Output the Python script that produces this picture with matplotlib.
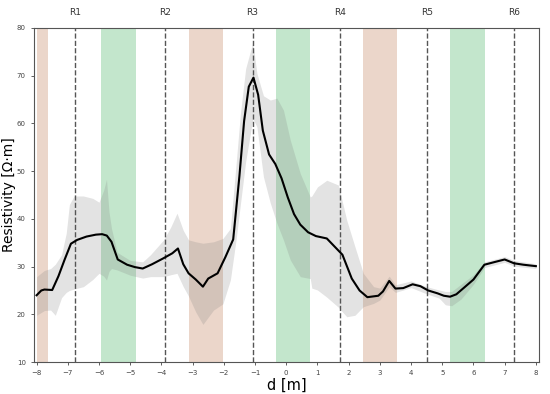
import matplotlib.pyplot as plt
import numpy as np

# mean resistivity profile
d = [-8.0, -7.85, -7.75, -7.5, -7.3, -7.1, -6.9, -6.7, -6.4, -6.1, -5.9, -5.75,
     -5.6, -5.4, -5.1, -4.85, -4.6, -4.3, -3.95, -3.65, -3.47, -3.3, -3.13, -2.9,
     -2.67, -2.5, -2.2, -1.95, -1.7, -1.5, -1.35, -1.2, -1.05, -0.9, -0.75, -0.55,
     -0.35, -0.15, 0.05, 0.25, 0.45, 0.7, 0.95, 1.3, 1.55, 1.8, 1.95, 2.1, 2.35,
     2.6, 2.95, 3.1, 3.3, 3.5, 3.75, 4.05, 4.3, 4.55, 4.85, 5.05, 5.25, 5.45, 5.7,
     6.0, 6.35, 6.7, 7.0, 7.3, 7.6, 8.0]
rho = [24.0, 25.0, 25.2, 25.1, 28.0, 31.5, 34.8, 35.6, 36.3, 36.7, 36.8, 36.5,
       35.2, 31.5, 30.4, 29.9, 29.6, 30.5, 31.7, 32.8, 33.8, 30.5, 28.6, 27.3,
       25.8, 27.5, 28.6, 32.0, 35.7, 49.0, 60.5, 67.7, 69.6, 66.0, 58.5, 53.5,
       51.5, 48.5, 44.5, 41.0, 38.8, 37.2, 36.4, 35.9, 34.2, 32.5, 30.0, 27.5, 25.0,
       23.6, 23.9, 24.8, 27.0, 25.4, 25.5, 26.3, 25.9, 25.0, 24.4, 23.9, 23.7, 24.2, 25.6,
       27.3, 30.4, 31.0, 31.5, 30.7, 30.4, 30.1]

# spread envelope
band_d = [-8.0, -7.75, -7.55, -7.4, -7.2, -7.05, -6.95, -6.8, -6.5, -6.2, -6.0,
          -5.85, -5.76, -5.68, -5.6, -5.42, -5.0, -4.6, -4.35, -3.93, -3.7, -3.5,
          -3.3, -3.13, -2.9, -2.67, -2.33, -2.03, -1.79, -1.6, -1.47, -1.3, -1.07,
          -0.94, -0.73, -0.51, -0.3, -0.09, 0.13, 0.45, 0.77, 0.82, 1.0, 1.3, 1.67,
          1.94, 2.2, 2.47, 2.8, 3.0, 3.3, 3.5, 4.0, 4.5, 4.9, 5.1, 5.3, 5.6, 6.0,
          6.35, 7.0, 7.3, 8.0]
band_upper = [27.9, 29.2, 29.6, 30.5, 32.5, 37.0, 43.0, 44.8, 44.8, 44.3, 43.5,
              46.0, 48.3, 41.5, 38.0, 33.0, 31.3, 31.0, 32.5, 35.6, 38.3, 41.2,
              37.6, 35.6, 35.2, 34.9, 35.2, 35.9, 38.0, 52.0, 62.0, 71.5, 77.0,
              70.5, 65.8, 64.9, 65.3, 62.8, 56.5, 49.5, 44.6, 44.8, 46.7, 48.1, 47.1,
              39.7, 34.2, 28.6, 25.8, 25.5, 28.0, 26.2, 27.0, 25.8, 25.1, 24.8, 24.8,
              26.3, 28.3, 31.0, 32.1, 31.3, 30.6]
band_lower = [19.8, 20.8, 20.9, 19.8, 23.5, 24.6, 25.0, 25.3, 25.8, 27.3, 28.6,
              28.0, 27.2, 29.0, 29.6, 29.3, 28.2, 27.6, 27.9, 27.9, 28.3, 28.6,
              25.8, 23.8, 20.5, 17.9, 20.9, 22.2, 27.2, 36.0, 43.0, 52.0, 61.0,
              59.3, 48.8, 43.3, 39.1, 35.6, 31.4, 27.9, 27.5, 25.5, 25.1, 23.6, 21.5,
              19.5, 19.8, 21.6, 22.3, 23.0, 25.8, 24.6, 25.6, 24.3, 23.4, 22.0, 21.8,
              23.2, 26.3, 29.8, 30.9, 30.1, 29.6]

# shaded zones (start, end)
brown_zones = [(-8.0, -7.63), (-3.13, -2.03), (2.45, 3.56)]
green_zones = [(-5.94, -4.82), (-0.33, 0.77), (5.25, 6.36)]

# reference positions
ref_pos = [-6.78, -3.88, -1.08, 1.72, 4.52, 7.3]
ref_labels = ['R1', 'R2', 'R3', 'R4', 'R5', 'R6']

fig = plt.figure(figsize=(5.5, 3.94), dpi=100)
ax = fig.add_axes([0.062, 0.081, 0.918, 0.848])

for a, b in brown_zones:
    ax.axvspan(a, b, color='#ebd6ca', lw=0, zorder=0)
for a, b in green_zones:
    ax.axvspan(a, b, color='#c3e6cc', lw=0, zorder=0)

ax.fill_between(band_d, band_lower, band_upper, color='grey', alpha=0.22, lw=0, zorder=1)

for x, lab in zip(ref_pos, ref_labels):
    ax.axvline(x, color='#555555', ls='--', lw=1, zorder=2)
    ax.text(x, 1.045, lab, transform=ax.get_xaxis_transform(), ha='center', va='center',
            fontsize=6.5, color='#333333')

ax.plot(d, rho, color='black', lw=1.5, zorder=3)

ax.set_xlim(-8.08, 8.1)
ax.set_ylim(10, 80)
ax.set_xticks(np.arange(-8, 9, 1))
ax.set_yticks(np.arange(10, 81, 10))
ax.tick_params(labelsize=5, colors='#444444', length=2.5, width=0.6)
for s in ax.spines.values():
    s.set_color('#555555')
    s.set_linewidth(0.8)

ax.set_xlabel('d [m]', fontsize=10.5, labelpad=1)
ax.set_ylabel('Resistivity [Ω·m]', fontsize=10)
ax.yaxis.set_label_coords(-0.036, 0.5)

plt.savefig('out.png', dpi=100)
